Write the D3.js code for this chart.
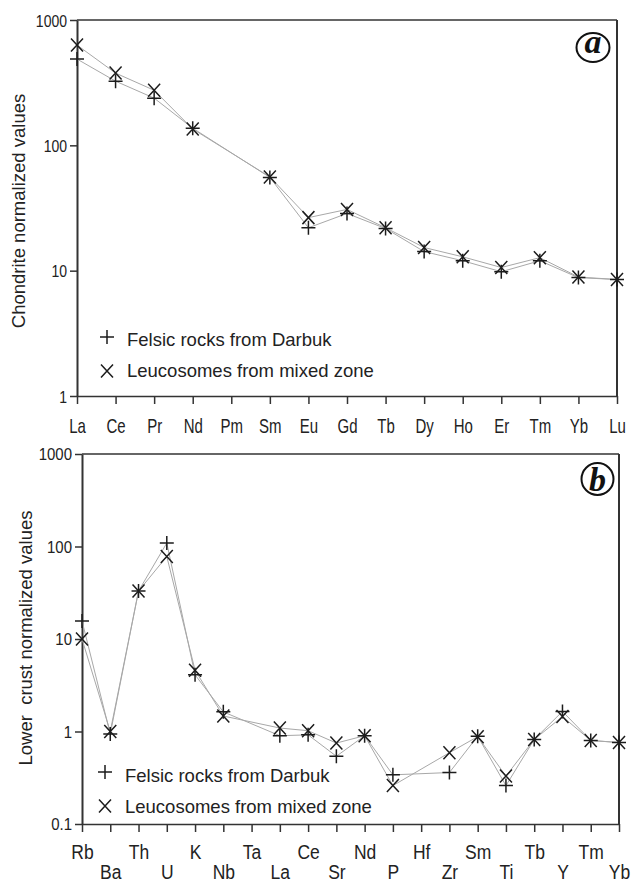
<!DOCTYPE html>
<html>
<head>
<meta charset="utf-8">
<script src="https://cdn.jsdelivr.net/npm/d3@7"></script>
<style>
  body { margin: 0; background: #fff; }
  svg { display: block; font-family: "Liberation Sans", Arial, sans-serif; }
</style>
</head>
<body>
<svg id="chart" width="632" height="883"></svg>
<script>
// panel a: chondrite normalized REE
var reeElements = ["La","Ce","Pr","Nd","Pm","Sm","Eu","Gd","Tb","Dy","Ho","Er","Tm","Yb","Lu"];
var reeFelsic   = [488, 325, 238, 137, null, 55.5, 22, 28.6, 21.7, 14.2, 12.0, 9.8, 12.0, 8.8, 8.5];
var reeLeuco    = [631, 377, 275, 135, null, 56, 26.5, 30.8, 22.0, 15.3, 12.9, 10.6, 12.7, 8.9, 8.5];
var reeTicks    = [1, 10, 100, 1000];

// panel b: lower crust normalized spider diagram
var spiderElements = ["Rb","Ba","Th","U","K","Nb","Ta","La","Ce","Sr","Nd","P","Hf","Zr","Sm","Ti","Tb","Y","Tm","Yb"];
var spiderFelsic   = [15.7, 0.94, 33, 109, 4.1, 1.63, null, 0.9, 0.92, 0.54, 0.9, 0.34, null, 0.36, 0.89, 0.26, 0.82, 1.65, 0.8, 0.76];
var spiderLeuco    = [10, 1.0, 33, 78, 4.6, 1.47, null, 1.09, 1.02, 0.75, 0.9, 0.26, null, 0.59, 0.88, 0.33, 0.82, 1.45, 0.8, 0.76];
var spiderTicks    = [0.1, 1, 10, 100, 1000];

var legendLabels = ["Felsic rocks from Darbuk", "Leucosomes from mixed zone"];

var svg = d3.select("#chart");
var axisColor = "#333";
var markColor = "#1c1c1c";
var lineColor = "#a8a8a8";

var plusPath = "M-7,0H7M0,-7V7";
var crossPath = "M-6,-6.5L6,6.5M6,-6.5L-6,6.5";

function drawPanel(p) {
    var g = svg.append("g");
    var x = d3.scalePoint().domain(p.cats).range([p.left, p.right]);
    var y = d3.scaleLog().domain(p.domain).range([p.bottom, p.top]);

    // frame lines top and right
    g.append("line").attr("x1", p.left).attr("x2", p.right).attr("y1", p.top).attr("y2", p.top)
        .attr("stroke", axisColor).attr("stroke-width", 1.5);
    g.append("line").attr("x1", p.right).attr("x2", p.right).attr("y1", p.top).attr("y2", p.bottom)
        .attr("stroke", axisColor).attr("stroke-width", 2);

    // y axis
    var ya = g.append("g").attr("transform", "translate(" + p.left + ",0)")
        .call(d3.axisLeft(y).tickValues(p.ticks).tickFormat(d3.format("~g")).tickSize(7).tickSizeOuter(0));
    ya.select(".domain").attr("stroke", axisColor).attr("stroke-width", 2);
    ya.selectAll(".tick line").attr("stroke", axisColor).attr("stroke-width", 1.5);
    ya.selectAll(".tick text")
        .attr("x", 0).attr("y", 0).attr("dy", null)
        .attr("fill", "#222")
        .style("font-size", p.yFont + "px")
        .attr("transform", "translate(-10," + (p.yFont * 0.36 * p.yScale) + ") scale(1," + p.yScale + ")");

    // x axis
    var xa = g.append("g").attr("transform", "translate(0," + p.bottom + ")")
        .call(d3.axisBottom(x).tickSize(8).tickSizeOuter(0));
    xa.select(".domain").attr("stroke", axisColor).attr("stroke-width", 1.5);
    xa.selectAll(".tick line").attr("stroke", axisColor).attr("stroke-width", 1.5);
    xa.selectAll(".tick text")
        .attr("x", 0).attr("y", 0).attr("dy", null)
        .attr("fill", "#222")
        .style("font-size", p.xFont + "px")
        .attr("transform", function(d, i) {
            var yb = p.stagger ? (i % 2 ? p.xRow2 : p.xRow1) : p.xRow1;
            return "translate(0," + yb + ") scale(1," + p.xScale + ")";
        });

    // series lines, skipping missing elements
    var line = d3.line().x(function(d) { return x(d.c); }).y(function(d) { return y(d.v); });
    [p.felsic, p.leuco].forEach(function(vals) {
        var pts = p.cats.map(function(c, i) { return {c: c, v: vals[i]}; })
            .filter(function(d) { return d.v !== null; });
        g.append("path").datum(pts).attr("d", line)
            .attr("fill", "none").attr("stroke", lineColor).attr("stroke-width", 1);
    });

    // markers
    [[p.felsic, plusPath], [p.leuco, crossPath]].forEach(function(s) {
        var pts = p.cats.map(function(c, i) { return {c: c, v: s[0][i]}; })
            .filter(function(d) { return d.v !== null; });
        g.selectAll(null).data(pts).enter().append("path")
            .attr("transform", function(d) { return "translate(" + x(d.c) + "," + y(d.v) + ")"; })
            .attr("d", s[1])
            .attr("fill", "none").attr("stroke", markColor).attr("stroke-width", 1.5);
    });

    // legend
    var markers = [plusPath, crossPath];
    legendLabels.forEach(function(lab, i) {
        g.append("path")
            .attr("transform", "translate(" + p.legX + "," + p.legMarkY[i] + ")")
            .attr("d", markers[i])
            .attr("fill", "none").attr("stroke", markColor).attr("stroke-width", 1.5);
        g.append("text").attr("x", p.legX + 20).attr("y", p.legTextY[i])
            .style("font-size", "18.5px").attr("fill", "#222")
            .text(lab);
    });

    // y title
    g.append("text")
        .attr("transform", "translate(" + p.titleX + "," + p.titleY + ") rotate(-90)")
        .attr("text-anchor", "middle")
        .style("font-size", "18.5px").style("white-space", "pre").attr("fill", "#222")
        .text(p.title);

    // circled panel letter
    g.append("ellipse").attr("cx", p.badge[0]).attr("cy", p.badge[1])
        .attr("rx", p.badge[2]).attr("ry", p.badge[3])
        .attr("fill", "none").attr("stroke", "#111").attr("stroke-width", 2);
    g.append("text").attr("x", p.badge[0]).attr("y", p.badge[4])
        .attr("text-anchor", "middle")
        .style("font-family", "'Liberation Serif', 'Times New Roman', serif")
        .style("font-weight", "bold").style("font-style", "italic")
        .style("font-size", "34px").attr("fill", "#111")
        .text(p.letter);
}

drawPanel({
    cats: reeElements, felsic: reeFelsic, leuco: reeLeuco,
    domain: [1, 1000], ticks: reeTicks,
    left: 77, right: 617, top: 20, bottom: 396,
    yFont: 14, yScale: 1.2,
    xFont: 15, xScale: 1.4, xRow1: 37, stagger: false,
    legX: 107, legMarkY: [337, 371], legTextY: [346, 377],
    title: "Chondrite normalized values", titleX: 25, titleY: 211,
    badge: [593, 47.5, 16.5, 14.5, 53], letter: "a"
});

drawPanel({
    cats: spiderElements, felsic: spiderFelsic, leuco: spiderLeuco,
    domain: [0.1, 1000], ticks: spiderTicks,
    left: 82, right: 619, top: 454, bottom: 824,
    yFont: 15, yScale: 1.1,
    xFont: 17.5, xScale: 1.15, xRow1: 35, xRow2: 55, stagger: true,
    legX: 105, legMarkY: [772, 806], legTextY: [782, 813],
    title: "Lower  crust normalized values", titleX: 32, titleY: 638,
    badge: [597.5, 479, 16, 16, 491], letter: "b"
});
</script>
</body>
</html>
